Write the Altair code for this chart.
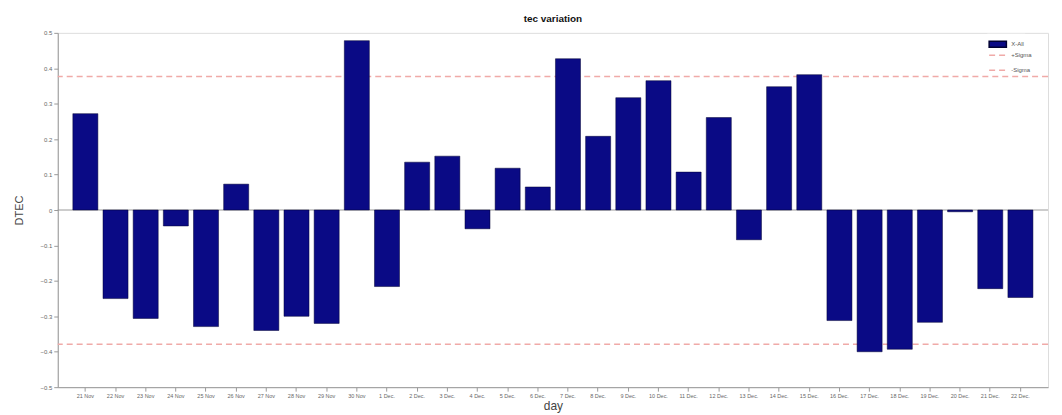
import altair as alt
import pandas as pd

days = ["21 Nov", "22 Nov", "23 Nov", "24 Nov", "25 Nov", "26 Nov", "27 Nov", "28 Nov",
        "29 Nov", "30 Nov", "1 Dec.", "2 Dec.", "3 Dec.", "4 Dec.", "5 Dec.", "6 Dec.",
        "7 Dec.", "8 Dec.", "9 Dec.", "10 Dec.", "11 Dec.", "12 Dec.", "13 Dec.", "14 Dec.",
        "15 Dec.", "16 Dec.", "17 Dec.", "18 Dec.", "19 Dec.", "20 Dec.", "21 Dec.", "22 Dec."]
dtec = [0.272, -0.250, -0.306, -0.045, -0.329, 0.073, -0.340, -0.300,
        -0.320, 0.478, -0.216, 0.135, 0.152, -0.053, 0.118, 0.065,
        0.427, 0.208, 0.317, 0.365, 0.107, 0.261, -0.084, 0.348,
        0.382, -0.312, -0.400, -0.393, -0.317, -0.005, -0.222, -0.247]
sigma_names = ["+Sigma", "-Sigma"]
sigma_values = [0.377, -0.379]
y_ticks = [-0.5, -0.4, -0.3, -0.2, -0.1, 0, 0.1, 0.2, 0.3, 0.4, 0.5]

bar_color = "#0a0a85"
sigma_color = "#f0aaa8"

bars_df = pd.DataFrame({"day": days, "dtec": dtec, "series": "X-All"})
sig_df = pd.DataFrame({"series": sigma_names, "dtec": sigma_values})

yscale = alt.Scale(domain=[-0.5, 0.5], nice=False)
yaxis = alt.Axis(
    title="DTEC", values=y_ticks, format=".1~f", labelOverlap=False, labelBound=False,
    grid=False, labelFontSize=6, labelColor="#666", titleFontSize=11, titleFontWeight="normal",
    titleColor="#444", tickColor="#999", domainColor="#999", tickSize=4, titlePadding=16,
    labelFont="Liberation Sans", titleFont="Liberation Sans",
)

bars = alt.Chart(bars_df).mark_bar(stroke="#000033", strokeWidth=0.5).encode(
    x=alt.X("day:N", sort=days,
            scale=alt.Scale(paddingInner=0.17, paddingOuter=0.5),
            axis=alt.Axis(title="day", labelAngle=0, labelFontSize=5.5, labelColor="#666",
                          labelOverlap=False,
                          titleFontSize=12, titleFontWeight="normal", titleColor="#444",
                          tickColor="#999", domainColor="#999", tickSize=4, titlePadding=2,
                          labelFont="Liberation Sans", titleFont="Liberation Sans")),
    y=alt.Y("dtec:Q", scale=yscale, axis=yaxis),
    color=alt.Color("series:N", scale=alt.Scale(domain=["X-All"], range=[bar_color]),
                    legend=alt.Legend(title=None, orient="none", legendX=934, legendY=1,
                                      symbolType="M-1,-0.35H1V0.35H-1Z", symbolSize=300,
                                      labelFontSize=6, labelColor="#555", padding=1,
                                      fillColor="white",
                                      labelFont="Liberation Sans")),
)

zero = alt.Chart(pd.DataFrame({"dtec": [0]})).mark_rule(color="#999", strokeWidth=1).encode(
    y=alt.Y("dtec:Q", scale=yscale, axis=yaxis)
)

rules = alt.Chart(sig_df).mark_rule(strokeWidth=1.5, color=sigma_color).encode(
    y=alt.Y("dtec:Q", scale=yscale, axis=yaxis),
    strokeDash=alt.StrokeDash("series:N",
                              scale=alt.Scale(domain=sigma_names, range=[[6, 4], [6, 4]]),
                              legend=alt.Legend(title=None, orient="none", legendX=934, legendY=12,
                                                symbolType="stroke", symbolSize=300,
                                                symbolStrokeColor=sigma_color,
                                                symbolStrokeWidth=1.5,
                                                labelFontSize=6, labelColor="#555", padding=1,
                                                fillColor="white",
                                                labelFont="Liberation Sans")),
)

chart = alt.layer(zero, rules, bars).properties(
    width=995, height=356,
    title=alt.TitleParams("tec variation", fontSize=10, fontWeight="bold",
                          font="Liberation Sans", color="#111", offset=6),
).configure_view(stroke="#bbb").configure(background="white").configure_legend(rowPadding=2)

chart.save("out.html", embed_options={"renderer": "svg", "actions": False})
